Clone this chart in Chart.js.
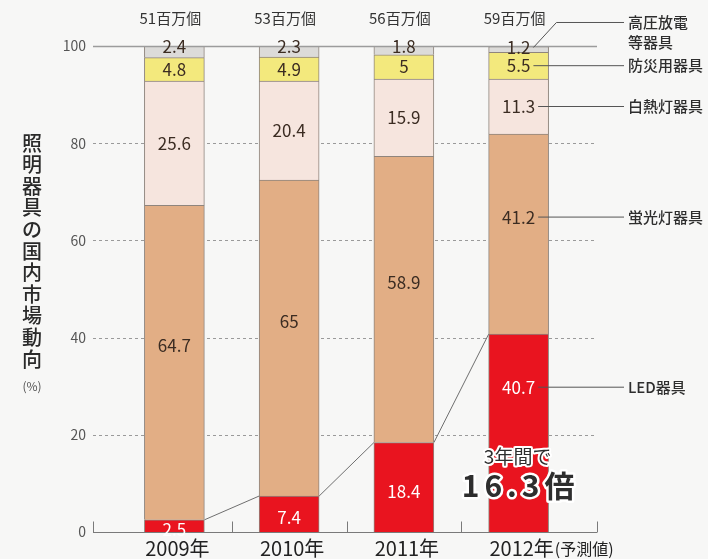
<!DOCTYPE html>
<html lang="ja">
<head>
<meta charset="utf-8">
<title>照明器具の国内市場動向</title>
<script src="https://cdn.jsdelivr.net/npm/chart.js@4/dist/chart.umd.min.js"></script>
<style>
  html, body { margin: 0; padding: 0; background: #f7f7f6; }
  canvas { display: block; }
</style>
</head>
<body>
<canvas id="market-chart" width="708" height="559"></canvas>
<script>
// 照明器具の国内市場構成比（%）
const years = ['2009年', '2010年', '2011年', '2012年'];
const yearNotes = ['', '', '', '(予測値)'];
const unitTotals = ['51百万個', '53百万個', '56百万個', '59百万個'];

const ledShare = [2.5, 7.4, 18.4, 40.7];
const fluorescentShare = [64.7, 65, 58.9, 41.2];
const incandescentShare = [25.6, 20.4, 15.9, 11.3];
const emergencyShare = [4.8, 4.9, 5, 5.5];
const hidShare = [2.4, 2.3, 1.8, 1.2];

const seriesNames = [['LED器具'], ['蛍光灯器具'], ['白熱灯器具'], ['防災用器具'], ['高圧放電', '等器具']];
const axisTitle = '照明器具の国内市場動向';
const axisUnit = '(%)';
const growthNote = ['3年間で', '16.3倍'];

const FONT = '"Noto Sans CJK JP", "Noto Sans", sans-serif';
const BG = '#f7f7f6';

// label styling per series: text colour and vertical nudge inside the segment
const labelStyle = [
    { color: '#ffffff', shift: 4 },
    { color: '#3b2c22', shift: -17 },
    { color: '#3b2c22', shift: 0 },
    { color: '#3b2c22', shift: 0 },
    { color: '#3b2c22', shift: 0 }
];

function labelY(i, el) {
    if (i === 4) return el.y + 1;               // thin top band: label sits on the 100 line
    const h = el.base - el.y;
    if (i === 0 && h > 150) return el.y + 53;   // leave room for the growth note
    return (el.y + el.base) / 2 + labelStyle[i].shift;
}

const decorations = {
    id: 'decorations',
    beforeDraw(chart) {
        const ctx = chart.ctx;
        ctx.save();
        ctx.fillStyle = BG;
        ctx.fillRect(0, 0, chart.width, chart.height);
        ctx.restore();
    },
    beforeDatasetsDraw(chart) {
        const { ctx, chartArea: area, scales: { y } } = chart;
        const left = area.left - 24, right = area.right + 21;
        ctx.save();
        ctx.strokeStyle = '#9a9a9a';
        ctx.lineWidth = 1;
        ctx.setLineDash([3, 3]);
        y.ticks.forEach(t => {
            if (t.value <= 0 || t.value >= 100) return;
            const py = Math.round(y.getPixelForValue(t.value)) + 0.5;
            ctx.beginPath();
            ctx.moveTo(left, py);
            ctx.lineTo(right, py);
            ctx.stroke();
        });
        ctx.restore();
    },
    afterDatasetsDraw(chart) {
        const { ctx, chartArea: area, scales: { x, y } } = chart;
        const left = area.left - 24, right = area.right + 21;
        ctx.save();

        // 100% line over the bars
        const top = Math.round(y.getPixelForValue(100)) + 0.5;
        ctx.strokeStyle = '#9c9c9c';
        ctx.lineWidth = 1.5;
        ctx.beginPath();
        ctx.moveTo(left, top);
        ctx.lineTo(right, top);
        ctx.stroke();

        // base axis with short upward ticks between the years
        const base = Math.round(y.getPixelForValue(0)) + 0.5;
        ctx.strokeStyle = '#7a7a7a';
        ctx.lineWidth = 1;
        ctx.beginPath();
        ctx.moveTo(left, base);
        ctx.lineTo(right, base);
        const step = x.getPixelForValue(1) - x.getPixelForValue(0);
        const tickXs = [left, right];
        for (let j = 1; j < years.length; j++) tickXs.push(x.getPixelForValue(j) - step / 2);
        tickXs.forEach(tx => {
            const px = Math.round(tx) + 0.5;
            ctx.moveTo(px, base);
            ctx.lineTo(px, base - 11);
        });
        ctx.stroke();

        // LED growth connectors
        const led = chart.getDatasetMeta(0).data;
        ctx.strokeStyle = '#6f6f6f';
        ctx.beginPath();
        for (let j = 0; j < led.length - 1; j++) {
            const a = led[j], b = led[j + 1];
            ctx.moveTo(a.x + a.width / 2, a.y);
            ctx.lineTo(b.x - b.width / 2, b.y);
        }
        ctx.stroke();

        // values inside segments
        ctx.textAlign = 'center';
        ctx.textBaseline = 'middle';
        ctx.font = '17px ' + FONT;
        const lastEnds = [];
        chart.data.datasets.forEach((ds, i) => {
            const meta = chart.getDatasetMeta(i);
            meta.data.forEach((el, j) => {
                const txt = String(ds.data[j]);
                const ly = labelY(i, el);
                ctx.fillStyle = labelStyle[i].color;
                ctx.fillText(txt, el.x, ly);
                if (j === meta.data.length - 1) {
                    lastEnds[i] = { x: el.x + ctx.measureText(txt).width / 2, y: ly };
                }
            });
        });

        // series names with leader lines from the last bar
        const textX = right + 31;
        const lineEnd = textX - 4;
        ctx.strokeStyle = '#555555';
        ctx.lineWidth = 1;
        ctx.fillStyle = '#2e2e2e';
        ctx.textAlign = 'left';
        ctx.font = '500 15px ' + FONT;
        seriesNames.forEach((name, i) => {
            const p = lastEnds[i];
            ctx.beginPath();
            if (name.length > 1) {
                const ty = p.y - 25;
                ctx.moveTo(p.x + 3, p.y);
                ctx.lineTo(p.x + 26, ty);
                ctx.lineTo(lineEnd, ty);
                ctx.stroke();
                name.forEach((line, k) => ctx.fillText(line, textX, ty + k * 20));
            } else {
                ctx.moveTo(p.x + 3, p.y);
                ctx.lineTo(lineEnd, p.y);
                ctx.stroke();
                ctx.fillText(name[0], textX, p.y);
            }
        });

        // unit totals above the bars
        ctx.textAlign = 'center';
        ctx.fillStyle = '#333333';
        ctx.font = '15px ' + FONT;
        led.forEach((el, j) => ctx.fillText(unitTotals[j], el.x - 4, area.top - 28));

        // year labels
        ctx.fillStyle = '#222222';
        led.forEach((el, j) => {
            const ly = area.bottom + 16;
            ctx.font = '20px ' + FONT;
            if (!yearNotes[j]) {
                ctx.textAlign = 'center';
                ctx.fillText(years[j], el.x + 3, ly);
                return;
            }
            const w = ctx.measureText(years[j]).width;
            const sx = el.x + 3 - w / 2;
            ctx.textAlign = 'left';
            ctx.fillText(years[j], sx, ly);
            ctx.font = '16px ' + FONT;
            ctx.fillText(yearNotes[j], sx + w + 1, ly + 1);
        });

        // vertical axis title
        ctx.textAlign = 'center';
        ctx.fillStyle = '#2a2a2a';
        ctx.font = '500 20px ' + FONT;
        const tx = 32;
        [...axisTitle].forEach((ch, k) => ctx.fillText(ch, tx, 143 + k * 21.6));
        ctx.font = '12px ' + FONT;
        ctx.fillStyle = '#555555';
        ctx.fillText(axisUnit, tx, 386);

        // growth note over the 2012 bar
        const last = led[led.length - 1];
        ctx.lineJoin = 'round';
        ctx.strokeStyle = '#ffffff';
        ctx.font = '19px ' + FONT;
        ctx.lineWidth = 4;
        ctx.strokeText(growthNote[0], last.x - 1, area.bottom - 75);
        ctx.fillStyle = '#2e2e2e';
        ctx.fillText(growthNote[0], last.x - 1, area.bottom - 75);
        ctx.font = 'bold 30px ' + FONT;
        ctx.letterSpacing = '5px';
        ctx.lineWidth = 5;
        ctx.strokeText(growthNote[1], last.x + 2, area.bottom - 46);
        ctx.fillText(growthNote[1], last.x + 2, area.bottom - 46);
        ctx.letterSpacing = '0px';

        ctx.restore();
    }
};

const segment = (label, data, color) => ({
    label,
    data,
    backgroundColor: color,
    borderColor: '#8f857d',
    borderWidth: 1,
    borderSkipped: 'bottom',
    barThickness: 60
});

new Chart(document.getElementById('market-chart'), {
    type: 'bar',
    data: {
        labels: years,
        datasets: [
            segment('LED器具', ledShare, '#e9141f'),
            segment('蛍光灯器具', fluorescentShare, '#e2ae85'),
            segment('白熱灯器具', incandescentShare, '#f6e5de'),
            segment('防災用器具', emergencyShare, '#f3e97d'),
            segment('高圧放電等器具', hidShare, '#dcdbd9')
        ]
    },
    options: {
        responsive: false,
        animation: false,
        layout: { padding: { top: 46, right: 132, left: 0, bottom: 0 } },
        plugins: {
            legend: { display: false },
            tooltip: { enabled: false }
        },
        scales: {
            x: {
                stacked: true,
                grid: { display: false },
                border: { display: false },
                ticks: { display: false },
                afterFit(scale) { scale.height = 27; }
            },
            y: {
                stacked: true,
                min: 0,
                max: 100,
                grid: { display: false, drawTicks: false },
                border: { display: false },
                ticks: {
                    stepSize: 20,
                    padding: 31,
                    color: '#555555',
                    font: { family: FONT, size: 14 }
                },
                afterFit(scale) {
                    scale.width = 117;
                    // tick label overhang is covered by the outer padding
                    scale.paddingTop = 0;
                    scale.paddingBottom = 0;
                }
            }
        }
    },
    plugins: [decorations]
});
</script>
</body>
</html>
